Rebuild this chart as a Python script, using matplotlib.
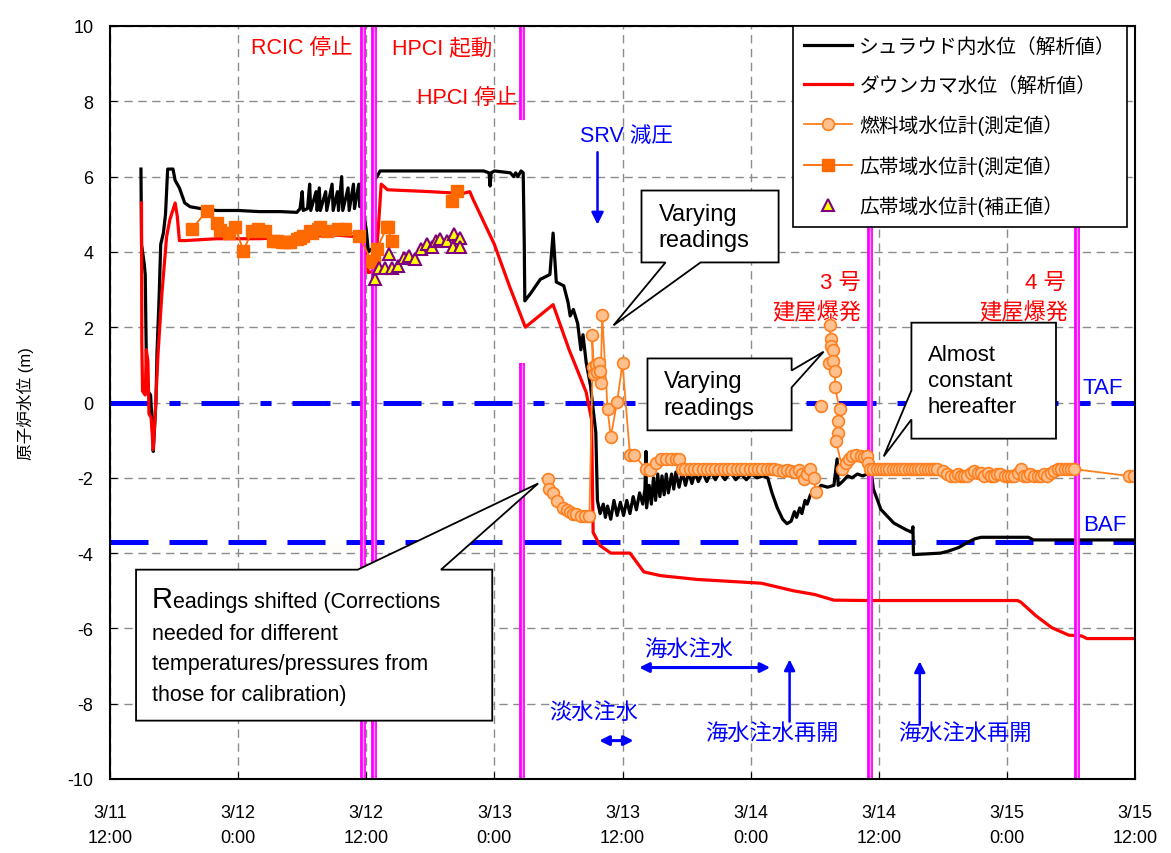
import numpy as np
import matplotlib
matplotlib.use("Agg")
import matplotlib.pyplot as plt
from matplotlib.patches import Polygon

plt.rcParams['font.family'] = ['Liberation Sans', 'Noto Sans CJK JP', 'DejaVu Sans']
plt.rcParams['axes.unicode_minus'] = False

# hours after 3/11 12:00
tick_pos = [0, 12, 24, 36, 48, 60, 72, 84, 96]
tick_labels = ['3/11\n12:00', '3/12\n0:00', '3/12\n12:00', '3/13\n0:00', '3/13\n12:00',
               '3/14\n0:00', '3/14\n12:00', '3/15\n0:00', '3/15\n12:00']

# shroud water level (analysis)
shroud_h = [2.9, 2.95, 3.2, 3.3, 3.4, 3.55, 3.8, 4.0, 4.05, 4.3, 4.4, 4.6, 4.75, 5.0, 5.2, 5.4, 5.9,
            6.1, 6.5, 7.0, 7.5, 8.5, 10, 12, 14, 16, 17.5, 17.8,
            18.0, 18.1, 18.5, 18.7, 18.8, 19.3, 19.4, 19.6, 19.7, 20.2, 20.3, 20.8, 20.9, 21.3, 21.4,
            21.7, 21.8, 22.3, 22.4, 22.8, 22.9, 23.3, 23.4, 23.6,
            23.65, 23.8, 24.0, 24.2, 24.6, 24.75, 25.0, 25.3, 26, 35, 35.5, 35.6, 35.7, 36, 37.5, 37.8,
            38.0, 38.2, 38.5, 38.7, 38.8, 38.85,
            39.4, 40.3, 41.2, 41.5, 41.8, 42.5, 42.9, 43.1, 43.4, 43.8, 44.1, 44.3, 44.6, 45.0, 45.5,
            45.65, 45.9,
            46.2, 46.4, 46.6, 46.9, 47.2, 47.5, 47.8, 48.1, 48.4, 48.7, 49.0, 49.3, 49.6, 49.9, 50.1,
            50.2, 50.25,
            50.5, 50.7, 50.9, 51.1, 51.3, 51.5, 51.7, 51.9, 52.1, 52.3, 52.6, 52.8, 53.0, 53.3, 53.6,
            53.9, 54.2, 54.5, 54.8, 55.1, 55.5, 55.9, 56.3, 56.7, 57.1, 57.6, 58.1, 58.6, 59.1, 59.6,
            60.1, 60.6, 61.2, 61.6,
            62.0, 62.5, 63.0, 63.4, 63.8, 64.1, 64.3, 64.6, 64.8, 65.1, 65.3, 65.6, 66.0, 66.6, 67.2,
            67.8, 68.1, 68.2, 68.6, 69.1, 69.5, 70.0, 70.5, 70.9, 71.3,
            71.5, 72.2, 73.4, 74.5, 75.1, 75.2, 75.25, 77.8, 78.5, 79.5, 80.3, 81.0, 81.6, 86.0, 86.5, 96]
shroud_lvl = [6.2, 4.2, 3.7, 3.4, 1.2, 0.3, 0.2, -0.8, -1.3, 0.0, 1.3, 2.8, 4.2, 4.5, 5.0, 6.2, 6.2,
              5.9, 5.7, 5.3, 5.2, 5.15, 5.1, 5.1, 5.07, 5.07, 5.05, 5.15,
              5.6, 5.1, 5.15, 5.8, 5.1, 5.6, 5.1, 5.7, 5.1, 5.6, 5.1, 5.8, 5.1, 5.6, 5.1,
              6.0, 5.1, 5.7, 5.1, 5.8, 5.15, 5.8, 5.2, 5.85,
              5.0, 4.9, 4.6, 4.0, 4.1, 5.9, 6.0, 6.15, 6.15, 6.15, 6.1, 5.75, 6.1, 6.15, 6.1, 6.0,
              6.1, 6.0, 6.15, 6.1, 4.2, 2.7,
              2.9, 3.27, 3.4, 4.5, 3.2, 3.1, 2.66, 2.3, 2.47, 2.1, 1.4, 1.8, 1.06, 0.45, -0.8,
              -2.6, -2.95,
              -2.7, -3.05, -2.75, -3.1, -2.6, -3.0, -2.65, -3.0, -2.6, -2.95, -2.5, -2.85, -2.4, -2.7, -2.3,
              -1.3, -2.8,
              -2.2, -2.7, -2.0, -2.6, -1.9, -2.5, -1.95, -2.45, -1.9, -2.4, -1.9, -2.3, -1.85, -2.25, -1.85,
              -2.2, -1.85, -2.15, -1.85, -2.1, -1.85, -2.1, -1.85, -2.05, -1.85, -2.05, -1.85, -2.05, -1.9, -2.05,
              -1.9, -2.0, -1.95, -2.0,
              -2.4, -2.8, -3.1, -3.22, -3.15, -2.9, -3.05, -2.8, -2.95, -2.6, -2.7, -2.45, -2.4, -2.2, -2.25,
              -2.2, -1.5, -2.2, -2.1, -1.95, -2.0, -1.9, -1.95, -1.9, -1.85,
              -2.3, -2.84, -3.2, -3.37, -3.45, -3.3, -4.04, -4.0, -3.95, -3.85, -3.72, -3.62, -3.58, -3.58, -3.65, -3.65]

# downcomer water level (analysis)
downcomer_h = [2.95, 2.98, 3.05, 3.3, 3.4, 3.55, 3.65, 3.85, 4.05, 4.2, 4.5, 4.85, 5.3, 5.6, 6.1, 6.3,
               6.5, 7.0, 10, 14, 18, 21, 23.3, 23.7, 24.0, 24.2, 24.8, 25.1, 25.4, 26, 30, 33, 33.7,
               34, 36, 37.4, 38.9, 41.5, 42.0, 43.0, 44.0, 44.6, 45.1, 45.25, 45.9, 46.9, 48.7, 50.0,
               51.6, 55, 61, 64, 66, 67.8, 71, 85.0, 85.3, 86.7, 88.2, 89.8, 91.0, 91.5, 96]
downcomer_lvl = [5.3, 1.6, 0.3, 0.2, 1.4, 1.1, -0.3, -0.4, -1.25, -0.5, 1.3, 2.85, 4.4, 4.85, 5.3, 4.95,
                 4.3, 4.3, 4.35, 4.35, 4.4, 4.45, 4.4, 4.3, 3.8, 3.45, 3.5, 4.5, 5.8, 5.65, 5.6, 5.55, 5.6,
                 5.4, 4.2, 3.1, 2.0, 2.6, 2.2, 1.4, 0.7, 0.27, -0.45, -3.45, -3.8, -4.0, -4.0, -4.5,
                 -4.6, -4.7, -4.8, -5.0, -5.1, -5.25, -5.26, -5.26, -5.3, -5.66, -5.98, -6.18, -6.2, -6.27, -6.27]

# fuel range level meter (measured)
fuel_h = [41.0, 41.1, 41.5, 41.9, 42.4, 42.8, 43.1, 43.4, 43.6, 44.1, 44.5, 44.9,
          45.2, 45.15, 45.35, 45.5, 45.6, 45.8, 45.9, 45.95, 46.1, 46.6, 46.9, 47.5, 48.0, 48.7, 49.1,
          50.2, 50.6, 51.1, 51.6, 52.1, 52.5, 53.0, 53.3, 53.6,
          53.9, 54.3, 54.7, 55.1, 55.5, 55.9, 56.3, 56.7, 57.1, 57.5, 57.9, 58.3, 58.7, 59.1, 59.5,
          59.9, 60.3, 60.7, 61.1, 61.5, 61.9,
          62.2, 62.6, 63.0, 63.4, 63.8, 64.2, 64.5, 64.8, 65.0, 65.3, 65.6, 65.9, 66.1,
          np.nan, 66.56, np.nan,
          67.4, 67.5, 67.55, 67.7, 67.35, 67.7, 67.9, 67.9, 68.35, 68.2, 68.15, 68.0,
          68.6, 68.9, 69.2, 69.5, 69.9, 70.3, 70.6, 70.9, 71.0, 71.2,
          71.5, 71.8, 72.1, 72.4, 72.7, 73.0, 73.3, 73.6, 73.9, 74.2, 74.5, 74.8, 75.1, 75.4, 75.7,
          76.0, 76.3, 76.6, 76.9, 77.2, 77.5,
          78.0, 78.4, 78.8, 79.1, 79.4, 79.7, 80.0, 80.3, 80.6, 80.9, 81.3, 81.6, 81.9, 82.2, 82.5,
          82.8, 83.1, 83.4, 83.8, 84.1, 84.4, 84.7, 85.0, 85.3, 85.6, 85.9, 86.2, 86.5, 86.9, 87.2,
          87.5, 87.8, 88.1, 88.4, 88.8, 89.1, 89.4, 89.7, 90.0, 90.3,
          95.4, 95.9, 96.6]
fuel_lvl = [-2.04, -2.3, -2.41, -2.61, -2.79, -2.86, -2.9, -2.95, -2.97, -3.01, -3.01, -3.01,
            0.93, 1.79, 0.75, 1.0, 0.8, 1.06, 0.84, 0.53, 2.33, -0.18, -0.91, 0.02, 1.04, -1.4, -1.4,
            -1.77, -1.79, -1.6, -1.5, -1.49, -1.49, -1.49, -1.5, -1.77,
            -1.77, -1.77, -1.77, -1.77, -1.77, -1.77, -1.77, -1.77, -1.77, -1.77, -1.77, -1.77, -1.77, -1.77, -1.77,
            -1.77, -1.77, -1.77, -1.77, -1.77, -1.77,
            -1.77, -1.8, -1.82, -1.8, -1.82, -1.85, -1.8, -1.9, -2.04, -1.9, -1.77, -2.0, -2.37,
            np.nan, -0.09, np.nan,
            2.05, 1.68, 1.5, 1.4, 1.06, 1.1, 0.84, 0.4, -0.18, -0.49, -0.8, -1.02,
            -1.77, -1.6, -1.5, -1.42, -1.4, -1.42, -1.45, -1.42, -1.6, -1.77,
            -1.77, -1.77, -1.77, -1.77, -1.77, -1.77, -1.77, -1.77, -1.77, -1.77, -1.77, -1.77, -1.77, -1.77, -1.77,
            -1.77, -1.77, -1.77, -1.77, -1.77, -1.77,
            -1.82, -1.9, -1.95, -1.95, -1.9, -1.95, -1.95, -1.95, -1.86, -1.82, -1.86, -1.86, -1.95, -1.86, -1.95,
            -1.95, -1.9, -1.9, -1.95, -1.95, -1.95, -1.95, -1.86, -1.77, -1.95, -1.95, -1.9, -1.95, -1.95, -1.95,
            -1.9, -1.95, -1.86, -1.82, -1.77, -1.77, -1.77, -1.77, -1.77, -1.77,
            -1.95, -1.95, -1.98]
fuel_marked = [not (i == len(fuel_h) - 1) for i in range(len(fuel_h))]

# wide range level meter (measured)
wide_h = [7.66, 9.06, 10.0, 10.3, 11.1, 11.7, 12.5, 13.3, 13.9, 14.5, 15.3, 15.6, 16.1, 16.6, 16.9,
          17.5, 17.8, 18.1, 18.75, 18.9, 19.5, 19.7, 20.3, 21.4, 22.0, 23.3, 24.5, 24.7, 25.0, 25.9,
          26.0, 26.4, np.nan, 32.0, 32.5]
wide_lvl = [4.6, 5.09, 4.78, 4.57, 4.5, 4.67, 4.03, 4.56, 4.6, 4.56, 4.3, 4.3, 4.25, 4.25, 4.25,
            4.34, 4.38, 4.43, 4.56, 4.5, 4.62, 4.65, 4.55, 4.6, 4.6, 4.43, 3.76, 3.72, 4.07, 4.65,
            4.65, 4.3, np.nan, 5.36, 5.62]

# wide range level meter (corrected)
corr_h = [24.84, 25.16, 25.8, 26.1, 26.4, 27.0, 27.5, 28.0, 28.6, 29.1, 29.7, 30.2, 30.5, 30.9,
          31.6, 32.2, 32.8, 32.1, 32.75]
corr_lvl = [3.29, 3.58, 3.58, 3.94, 3.58, 3.63, 3.85, 3.88, 3.82, 4.07, 4.2, 4.12, 4.3, 4.34,
            4.3, 4.47, 4.38, 4.12, 4.14]

# events (hours): RCIC stop, HPCI start, HPCI stop, unit 3 explosion, unit 4 explosion
event_h = [23.7, 24.7, 38.6, 71.2, 90.6]

TAF = 0.0
BAF = -3.7

fig = plt.figure(figsize=(11.71, 8.54), dpi=100)
ax = fig.add_axes([110 / 1171, 74 / 854, 1025 / 1171, 753 / 854])
ax.set_xlim(0, 96)
ax.set_ylim(-10, 10)
ax.set_xticks(tick_pos)
ax.set_xticklabels(tick_labels, fontsize=13, linespacing=1.6)
ax.set_yticks(np.arange(-10, 11, 2))
ax.tick_params(axis='y', labelsize=13, direction='in', pad=12, length=5)
ax.tick_params(axis='x', direction='in', pad=18, length=5)
ax.set_ylabel('原子炉水位 (m)', fontsize=12, labelpad=24)
ax.grid(True, color='#8c8c8c', linestyle=(0, (6, 4)), lw=1.0)
ax.set_axisbelow(True)
for s in ax.spines.values():
    s.set_linewidth(1.5)
    s.set_color('black')
    s.set_zorder(10)

# TAF / BAF
ax.axhline(TAF, color='#0000ff', lw=3.6, dashes=(7.6, 4.2, 2.2, 4.2), zorder=2)
ax.axhline(BAF, color='#0000ff', lw=3.6, dashes=(7.6, 4.2), zorder=2)
ax.text(91.1, 0.4, 'TAF', color='#0000ff', fontsize=16, va='center', ha='left')
ax.text(91.1, -3.24, 'BAF', color='#0000ff', fontsize=16, va='center', ha='left')

l1, = ax.plot(shroud_h, shroud_lvl, color='black', lw=2.3, zorder=3,
              label='シュラウド内水位（解析値）')
l2, = ax.plot(downcomer_h, downcomer_lvl, color='#ff0000', lw=2.3, zorder=3.5,
              label='ダウンカマ水位（解析値）')

# event lines
for i, h in enumerate(event_h):
    if i == 2:
        segs = [(7.5, 10), (-10, 1.05)]
    else:
        segs = [(-10, 10)]
    for y0, y1 in segs:
        ax.plot([h, h], [y0, y1], color='#ff00ff', lw=4.2, zorder=4, solid_capstyle='butt')
        ax.plot([h, h], [y0, y1], color='#ff9cff', lw=1.0, zorder=4.1, solid_capstyle='butt')

l3, = ax.plot(fuel_h, fuel_lvl, color='#ff7f1e', lw=1.3, marker='o', markersize=8.5,
              markerfacecolor='#ffc08e', markeredgecolor='#ff7f1e', markeredgewidth=1.2,
              markevery=fuel_marked, zorder=5, label='燃料域水位計(測定値）')
l4, = ax.plot(wide_h, wide_lvl, color='#ff6a00', lw=1.3, marker='s', markersize=8,
              markeredgecolor='#ff6a00', zorder=5, label='広帯域水位計(測定値）')
l5, = ax.plot(corr_h, corr_lvl, linestyle='none', marker='^', markersize=9,
              markerfacecolor='#ffff00', markeredgecolor='#800080', markeredgewidth=1.5,
              zorder=6, label='広帯域水位計(補正値）')

# event texts
red = '#ff0000'
ax.text(18.0, 9.43, 'RCIC 停止', color=red, fontsize=15.5, ha='center', va='center')
ax.text(31.1, 9.43, 'HPCI 起動', color=red, fontsize=15.5, ha='center', va='center')
ax.text(38.1, 8.1, 'HPCI 停止', color=red, fontsize=15.5, ha='right', va='center')
ax.text(70.3, 3.19, '3 号', color=red, fontsize=16, ha='right', va='center')
ax.text(70.4, 2.39, '建屋爆発', color=red, fontsize=16, ha='right', va='center')
ax.text(89.5, 3.19, '4 号', color=red, fontsize=16, ha='right', va='center')
ax.text(89.7, 2.39, '建屋爆発', color=red, fontsize=16, ha='right', va='center')

blue = '#0000ff'
ax.text(48.4, 7.09, 'SRV 減圧', color=blue, fontsize=15.5, ha='center', va='center')
ax.annotate('', xy=(45.66, 4.65), xytext=(45.66, 6.72),
            arrowprops=dict(arrowstyle='-|>', color=blue, lw=1.8, mutation_scale=18))
ax.text(54.2, -6.56, '海水注水', color=blue, fontsize=16, ha='center', va='center')
ax.annotate('', xy=(62.1, -7.04), xytext=(49.3, -7.04),
            arrowprops=dict(arrowstyle='<|-|>', color=blue, lw=2.2, mutation_scale=14))
ax.text(45.3, -8.23, '淡水注水', color=blue, fontsize=16, ha='center', va='center')
ax.annotate('', xy=(49.3, -8.98), xytext=(45.56, -8.98),
            arrowprops=dict(arrowstyle='<|-|>', color=blue, lw=2.2, mutation_scale=14))
ax.annotate('', xy=(63.65, -6.75), xytext=(63.65, -8.55),
            arrowprops=dict(arrowstyle='-|>', color=blue, lw=1.8, mutation_scale=16))
ax.text(62.0, -8.79, '海水注水再開', color=blue, fontsize=16, ha='center', va='center')
ax.annotate('', xy=(75.84, -6.8), xytext=(75.84, -8.63),
            arrowprops=dict(arrowstyle='-|>', color=blue, lw=1.8, mutation_scale=16))
ax.text(80.06, -8.79, '海水注水再開', color=blue, fontsize=16, ha='center', va='center')


# callout boxes
def callout(verts, tx, ty, text, size, spacing):
    ax.add_patch(Polygon(verts, closed=True, facecolor='white', edgecolor='black',
                         lw=1.3, zorder=7))
    if text:
        ax.text(tx, ty, text, fontsize=size, ha='left', va='center', linespacing=spacing, zorder=8)


callout([(49.78, 5.63), (62.62, 5.63), (62.62, 3.72), (55.31, 3.72), (47.16, 2.05),
         (52.03, 3.72), (49.78, 3.72)], 51.4, 4.67, 'Varying\nreadings', 17, 1.25)
callout([(50.34, 1.17), (63.84, 1.17), (63.84, 0.85), (66.84, 1.35), (63.84, 0.40),
         (63.84, -0.74), (50.34, -0.74)], 51.85, 0.21, 'Varying\nreadings', 17, 1.25)
callout([(75.06, 2.12), (88.6, 2.12), (88.6, -0.96), (75.06, -0.96), (75.06, -0.45),
         (72.47, -1.43), (75.06, 0.32)], 76.6, 0.58, 'Almost\nconstant\nhereafter', 16, 1.3)
callout([(2.44, -4.44), (23.2, -4.44), (40.1, -2.15), (31.0, -4.44), (35.8, -4.44),
         (35.8, -8.45), (2.44, -8.45)], 0, 0, '', 16, 1.4)

# "Readings shifted" text: first letter drawn larger
first = ax.text(3.94, -5.44, 'R', fontsize=21, ha='left', va='baseline', zorder=8)
ax.annotate('eadings shifted (Corrections', xy=(1, 0), xycoords=first,
            xytext=(0, 1.2), textcoords='offset points', fontsize=15.5,
            ha='left', va='bottom', zorder=8)
ax.text(3.94, -6.27, 'needed for different', fontsize=15.5, ha='left', va='baseline', zorder=8)
ax.text(3.94, -7.09, 'temperatures/pressures from', fontsize=15.5, ha='left', va='baseline', zorder=8)
ax.text(3.94, -7.91, 'those for calibration)', fontsize=15.5, ha='left', va='baseline', zorder=8)

leg = ax.legend(handles=[l1, l2, l3, l4, l5], loc='upper right',
                bbox_to_anchor=((1127 - 110) / 1025, 1.0), borderaxespad=0,
                fontsize=14.2, handlelength=2.4, handletextpad=0.4, labelspacing=1.0,
                fancybox=False, framealpha=1, edgecolor='black', borderpad=0.55)
leg.get_frame().set_linewidth(1.2)
leg.set_zorder(20)

fig.savefig('out.png', dpi=100)
